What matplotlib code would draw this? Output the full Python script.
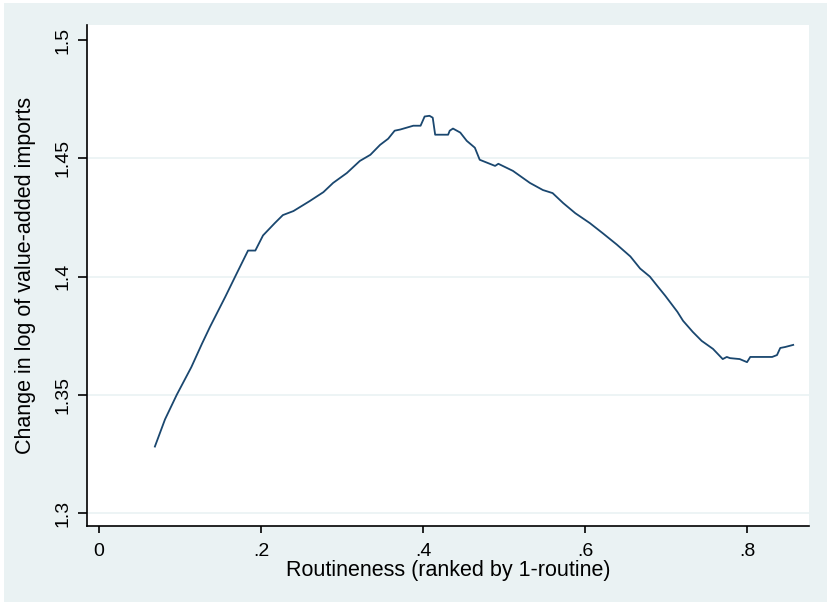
import matplotlib.pyplot as plt
from matplotlib.patches import Rectangle

plt.rcParams['font.family'] = ['Liberation Sans', 'DejaVu Sans']

# smoothed curve
routine = [0.069, 0.0815, 0.096, 0.114, 0.127, 0.137, 0.156, 0.170, 0.184, 0.193,
           0.2025, 0.217, 0.227, 0.240, 0.260, 0.277, 0.289, 0.306, 0.322, 0.335,
           0.347, 0.357, 0.365, 0.372, 0.388, 0.397, 0.402, 0.408, 0.412, 0.415,
           0.431, 0.433, 0.437, 0.446, 0.454, 0.464, 0.470, 0.489, 0.493, 0.511,
           0.532, 0.548, 0.560, 0.573, 0.588, 0.606, 0.622, 0.639, 0.656, 0.668,
           0.680, 0.690, 0.699, 0.714, 0.721, 0.733, 0.744, 0.758, 0.770, 0.775,
           0.779, 0.791, 0.800, 0.804, 0.831, 0.837, 0.841, 0.847, 0.857]
va_imports = [1.3281, 1.3396, 1.3500, 1.3617, 1.3715, 1.3787, 1.3915, 1.4013, 1.4110, 1.4110,
              1.4174, 1.4226, 1.4260, 1.4277, 1.4319, 1.4357, 1.4396, 1.4438, 1.4489, 1.4515,
              1.4557, 1.4583, 1.4617, 1.4622, 1.4638, 1.4638, 1.4677, 1.4680, 1.4672, 1.4600,
              1.4600, 1.4617, 1.4626, 1.4609, 1.4574, 1.4545, 1.4494, 1.4468, 1.4477, 1.4447,
              1.4396, 1.4366, 1.4353, 1.4311, 1.4268, 1.4226, 1.4183, 1.4136, 1.4085, 1.4034,
              1.4000, 1.3957, 1.3919, 1.3851, 1.3813, 1.3766, 1.3728, 1.3694, 1.3651, 1.3660,
              1.3655, 1.3651, 1.3638, 1.3660, 1.3660, 1.3668, 1.3698, 1.3702, 1.3711]

xticks = [0, 0.2, 0.4, 0.6, 0.8]
xticklabels = ['0', '.2', '.4', '.6', '.8']
yticks = [1.3, 1.35, 1.4, 1.45, 1.5]
yticklabels = ['1.3', '1.35', '1.4', '1.45', '1.5']

fig = plt.figure(figsize=(8.31, 6.06), dpi=100, facecolor='white')
fig.patches.append(Rectangle((4 / 831, 4 / 606), 823 / 831, 599 / 606,
                             transform=fig.transFigure, facecolor='#eaf2f3',
                             edgecolor='none', zorder=-10))

ax = fig.add_axes([87 / 831, 1 - 526 / 606, 722 / 831, 501 / 606])
ax.set_facecolor('white')

for y in [1.3, 1.35, 1.4, 1.45]:
    ax.axhline(y, color='#eaf2f3', lw=1.2, zorder=1)

ax.plot(routine, va_imports, color='#1a476f', lw=1.3, zorder=3)

ax.set_xlim(-0.0148, 0.8765)
ax.set_ylim(1.2945, 1.5064)
ax.set_xticks(xticks)
ax.set_xticklabels(xticklabels)
ax.set_yticks(yticks)
ax.set_yticklabels(yticklabels, rotation=90, va='center')

ax.spines['top'].set_visible(False)
ax.spines['right'].set_visible(False)
ax.spines['left'].set_linewidth(1.2)
ax.spines['bottom'].set_linewidth(1.2)
ax.tick_params(axis='x', length=5, width=1.2, pad=7, labelsize=14)
ax.tick_params(axis='y', length=6.5, width=1.2, pad=5, labelsize=14)

ax.set_xlabel('Routineness (ranked by 1-routine)', fontsize=15.5, labelpad=0)
ax.set_ylabel('Change in log of value-added imports', fontsize=15.5, labelpad=13)

plt.savefig('out.png', dpi=100, facecolor=fig.get_facecolor())
